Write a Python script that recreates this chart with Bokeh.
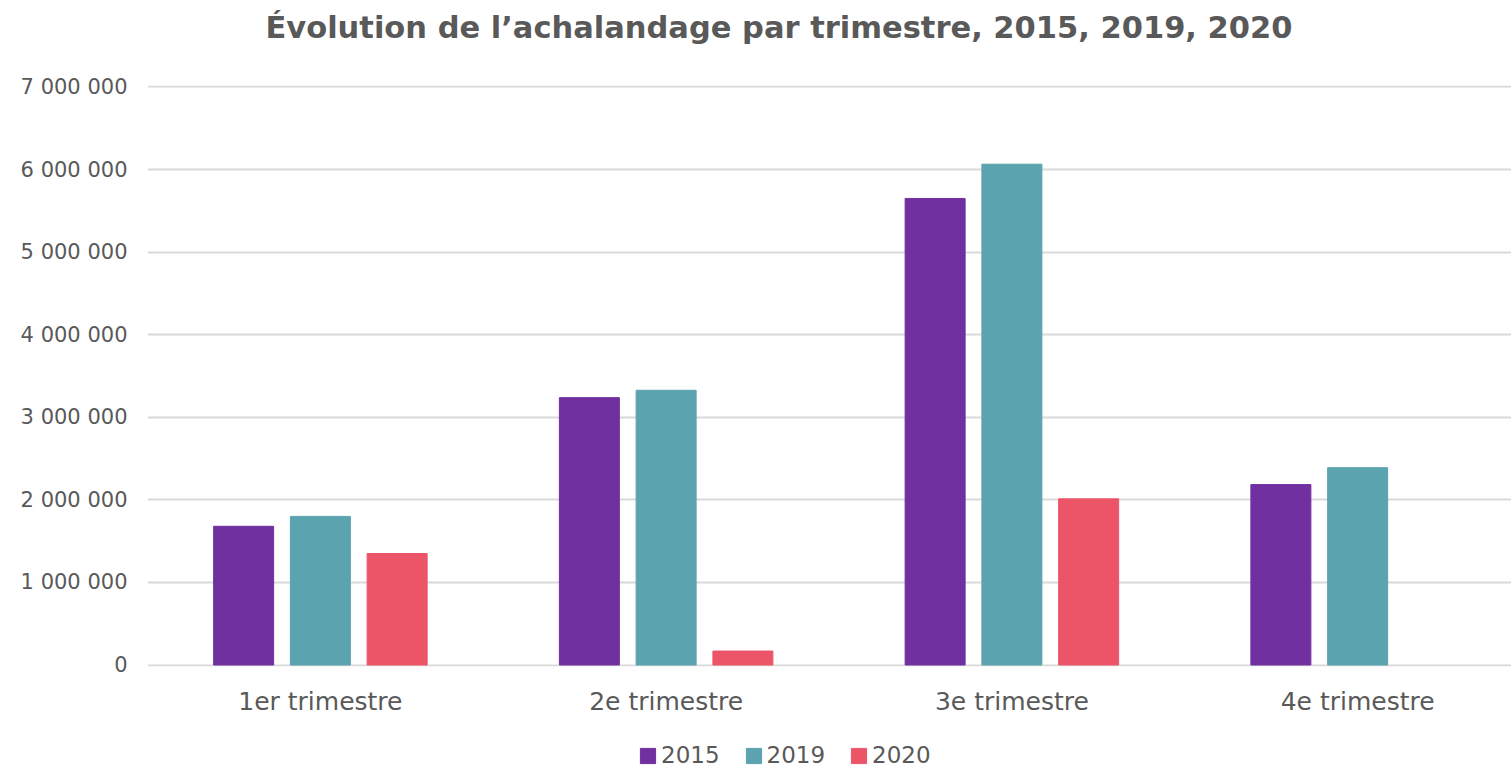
import numpy as np
from bokeh.plotting import figure
from bokeh.layouts import column
from bokeh.models import (Range1d, FixedTicker, CustomJSTickFormatter, Legend, LegendItem, Label)
from bokeh.embed import file_html
from bokeh.resources import INLINE

# ---- data ----
quarters = ["1er trimestre", "2e trimestre", "3e trimestre", "4e trimestre"]
years = ["2015", "2019", "2020"]
v2015 = [1680000, 3238000, 5650000, 2185000]
v2019 = [1800000, 3327000, 6065000, 2390000]
v2020 = [1350000, 169000, 2012000, np.nan]
y_ticks = [0, 1000000, 2000000, 3000000, 4000000, 5000000, 6000000, 7000000]
title_text = "Évolution de l’achalandage par trimestre, 2015, 2019, 2020"

colors = ["#7030A0", "#5BA3AF", "#EC5468"]
TXT = "#595959"
FONT = "DejaVu Sans"
W = 1511
LEFT = 147


def bare(h):
    f = figure(width=W, height=h, output_backend="svg", toolbar_location=None,
               x_axis_location=None, y_axis_location=None,
               x_range=Range1d(0, 1), y_range=Range1d(0, 1),
               min_border_left=LEFT, min_border_right=0, min_border_top=0, min_border_bottom=0)
    f.outline_line_color = None
    f.xgrid.visible = False
    f.ygrid.visible = False
    return f


base = np.arange(len(quarters)) + 0.5
offsets = [-0.222, 0.0, 0.222]
series = [v2015, v2019, v2020]

# ---- title strip ----
tf = bare(60)
tf.add_layout(Label(x=265 - LEFT, y=33, x_units="screen", y_units="screen", text=title_text,
                    text_align="left", text_baseline="alphabetic", text_font=FONT,
                    text_font_style="bold", text_font_size="30.5px", text_color=TXT))

# ---- main chart ----
p = figure(width=W, height=668, output_backend="svg", toolbar_location=None,
           x_range=Range1d(0, 3.945), y_range=Range1d(-18000, 7018000),
           min_border_left=LEFT, min_border_right=0, min_border_top=25, min_border_bottom=62)
p.outline_line_color = None

for vals, off, c in zip(series, offsets, colors):
    p.vbar(x=base + off, top=np.array(vals, dtype=float), bottom=0, width=0.1735,
           fill_color=c, line_color=c, line_width=1)

p.xaxis.ticker = FixedTicker(ticks=list(base))
p.xaxis.major_label_overrides = {float(b): q for b, q in zip(base, quarters)}
p.xaxis.axis_line_color = None
p.xaxis.major_tick_line_color = None
p.xaxis.minor_tick_line_color = None
p.xaxis.major_label_text_font = FONT
p.xaxis.major_label_text_font_size = "25px"
p.xaxis.major_label_text_color = TXT
p.xaxis.major_label_standoff = 14
p.xgrid.grid_line_color = None

p.yaxis.ticker = FixedTicker(ticks=y_ticks)
p.yaxis.formatter = CustomJSTickFormatter(code="""
return Math.round(tick).toString().replace(/\\B(?=(\\d{3})+(?!\\d))/g, ' ');
""")
p.yaxis.axis_line_color = None
p.yaxis.major_tick_line_color = None
p.yaxis.minor_tick_line_color = None
p.yaxis.major_label_text_font = FONT
p.yaxis.major_label_text_font_size = "21px"
p.yaxis.major_label_text_color = TXT
p.yaxis.major_label_standoff = 14
p.ygrid.grid_line_color = "#D9D9D9"
p.ygrid.grid_line_width = 2

# ---- legend strip (hidden copies of the series provide the legend swatches) ----
lf = bare(40)
lrs = [lf.vbar(x=base + off, top=np.array(vals, dtype=float), width=0.1735,
               fill_color=c, line_color=c, visible=False)
       for vals, off, c in zip(series, offsets, colors)]
legend = Legend(items=[LegendItem(label=y, renderers=[r]) for y, r in zip(years, lrs)],
                orientation="horizontal", location=(638 - LEFT, 0),
                glyph_width=19, glyph_height=19, label_standoff=4, spacing=24,
                padding=0, margin=0, border_line_color=None, background_fill_alpha=0,
                label_text_font=FONT, label_text_font_size="23px", label_text_color=TXT)
lf.add_layout(legend, "center")

layout = column(tf, p, lf, spacing=0)
open("out.html", "w").write(file_html(layout, INLINE))
